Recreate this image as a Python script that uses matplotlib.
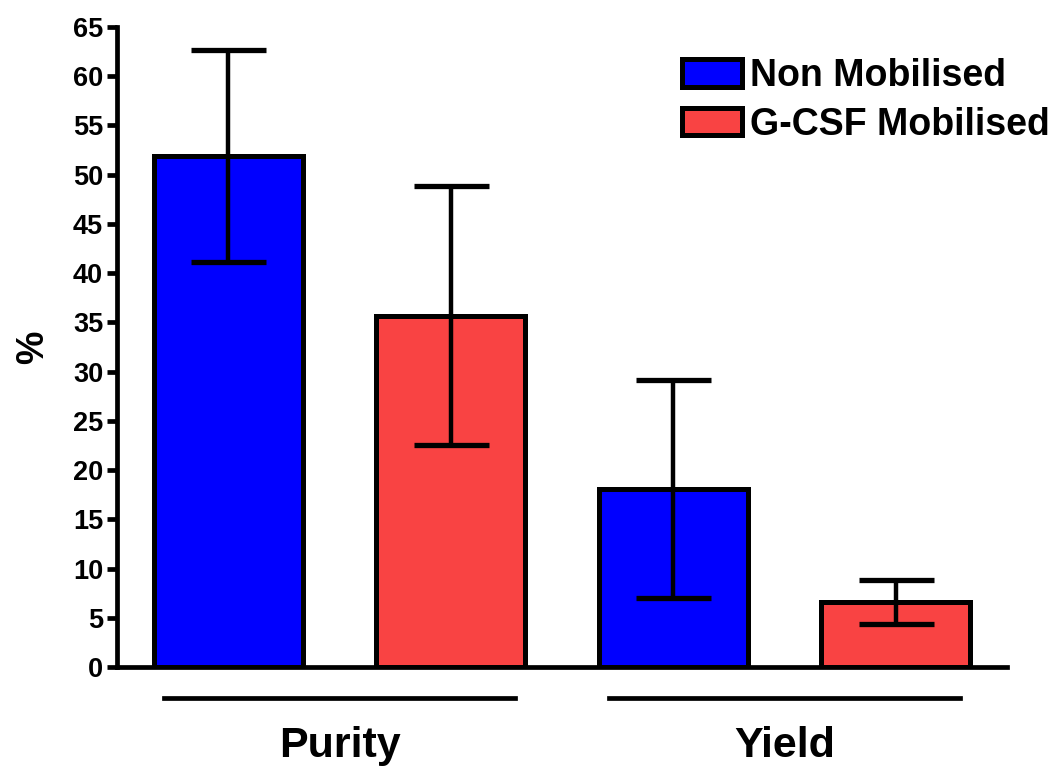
import numpy as np
import matplotlib
matplotlib.use("Agg")
import matplotlib.pyplot as plt
from matplotlib.patches import Patch

plt.rcParams['font.family'] = ['Liberation Sans', 'DejaVu Sans']
plt.rcParams['font.weight'] = 'bold'

groups = ["Purity", "Yield"]
series = ["Non Mobilised", "G-CSF Mobilised"]
colors = ["#0000FF", "#F94343"]
means = [[51.9, 18.1], [35.7, 6.6]]   # per series, per group
errs = [[10.8, 11.1], [13.15, 2.2]]
yticks = list(range(0, 70, 5))

fig = plt.figure(figsize=(10.58, 7.68), dpi=100)
ax = fig.add_axes([0.1106, 0.1315, 0.8414, 0.8333])

width = 0.67
for gi, g in enumerate(groups):
    for si in range(len(series)):
        x = gi * 2 + si
        ax.bar(x, means[si][gi], width=width, color=colors[si],
               edgecolor="black", linewidth=3.6, zorder=2)
        ax.errorbar(x, means[si][gi], yerr=errs[si][gi], fmt="none",
                    ecolor="black", elinewidth=3.2, capsize=27, capthick=3.8,
                    zorder=3)

ax.set_xlim(-0.5, 3.5)
ax.set_ylim(0, 65)
ax.set_yticks(yticks)
ax.set_yticklabels([str(t) for t in yticks], fontsize=19.5, fontweight="bold")
ax.set_xticks([])
ax.set_ylabel("%", fontsize=27, fontweight="bold", labelpad=16)

for s in ["top", "right"]:
    ax.spines[s].set_visible(False)
for s in ["left", "bottom"]:
    ax.spines[s].set_linewidth(3.4)
ax.tick_params(axis="y", direction="out", length=7, width=3.4, pad=3)

# group bars and labels under the axis
trans = ax.get_xaxis_transform()
for gi, g in enumerate(groups):
    c = gi * 2 + 0.5
    ax.plot([c - 0.79, c + 0.79], [-0.048, -0.048], color="black", lw=3.4,
            transform=trans, clip_on=False)
    ax.text(c, -0.124, g, transform=trans, ha="center", va="center",
            fontsize=31, fontweight="bold")

handles = [Patch(facecolor=colors[i], edgecolor="black", linewidth=3.6,
                 label=series[i]) for i in range(len(series))]
fig.legend(handles=handles, loc="upper right", frameon=False,
           prop={"size": 27, "weight": "bold"}, handlelength=1.6,
           handleheight=0.75, handletextpad=0.22, labelspacing=0.34,
           borderpad=0, borderaxespad=0,
           bbox_to_anchor=(1050 / 1058, 1 - 58 / 768))

fig.savefig("out.png", dpi=100)
